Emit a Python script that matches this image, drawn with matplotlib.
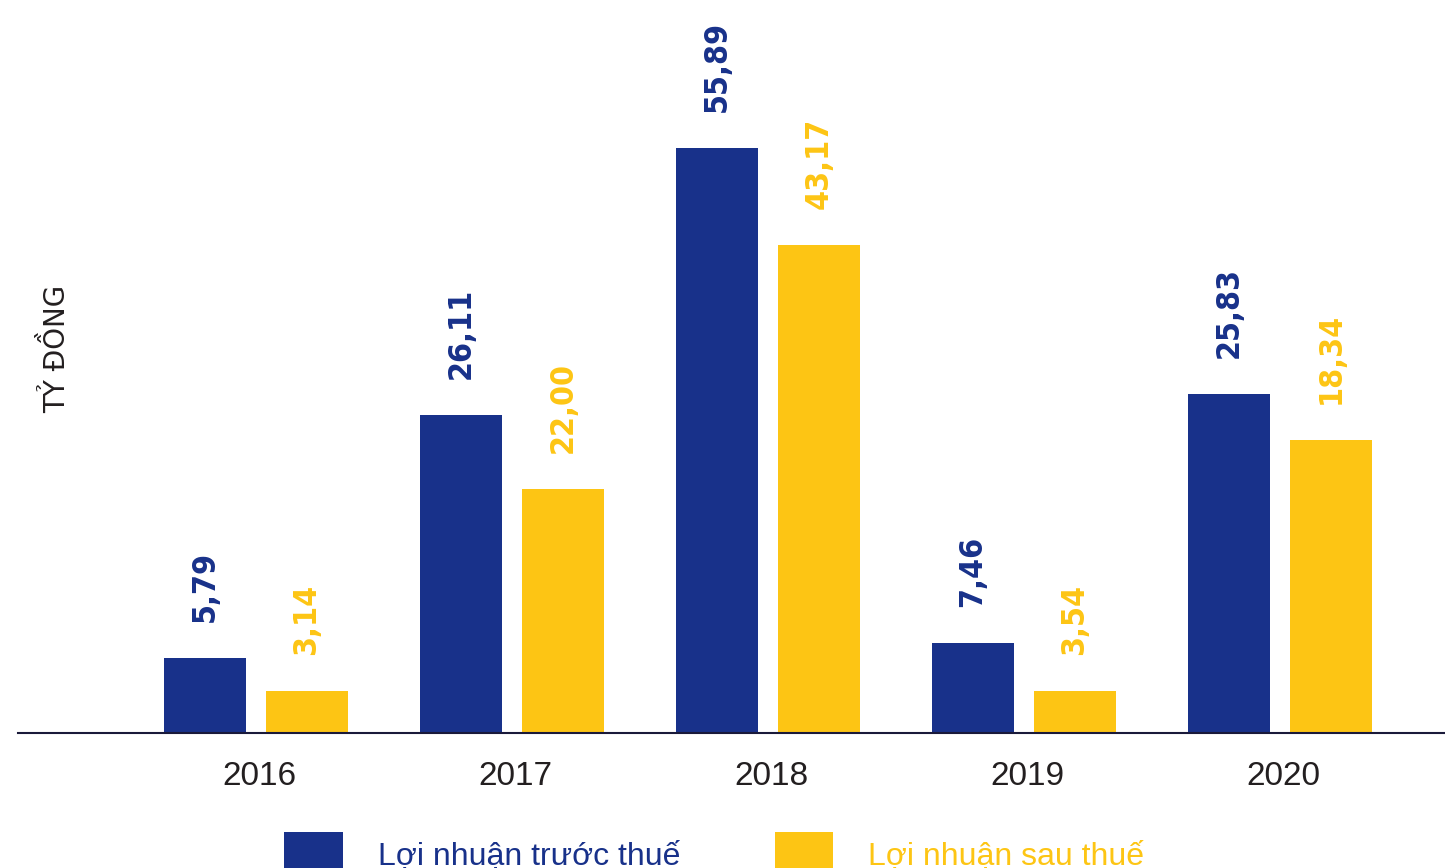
import matplotlib
matplotlib.use("Agg")
import matplotlib.pyplot as plt
import numpy as np

years = ["2016", "2017", "2018", "2019", "2020"]
# bar heights as drawn in the reference (tỷ đồng)
truoc_thue = [7.17, 30.38, 55.89, 8.60, 32.39]
sau_thue = [4.01, 23.31, 46.62, 4.01, 27.99]
# printed value labels
truoc_labels = ["5,79", "26,11", "55,89", "7,46", "25,83"]
sau_labels = ["3,14", "22,00", "43,17", "3,54", "18,34"]
series_names = ["Lợi nhuận trước thuế", "Lợi nhuận sau thuế"]

BLUE = "#18318a"
YELLOW = "#fdc514"

W, H = 1445, 868
fig = plt.figure(figsize=(W / 100, H / 100), dpi=100)
ax = fig.add_axes([18 / W, 1 - 733 / H, 1 - 18 / W, 733 / H])

x = np.arange(len(years))
bw = 82 / 256
off = 51 / 256
b1 = ax.bar(x - off, truoc_thue, bw, color=BLUE, label=series_names[0])
b2 = ax.bar(x + off, sau_thue, bw, color=YELLOW, label=series_names[1])

lab_kw = dict(textcoords="offset points", rotation=90, ha="center", va="bottom",
              fontsize=23, fontweight="heavy", family="DejaVu Sans",
              fontstretch="condensed")
for xi, h, t in zip(x - off, truoc_thue, truoc_labels):
    ax.annotate(t, (xi, h), xytext=(0, 26), color=BLUE, **lab_kw)
for xi, h, t in zip(x + off, sau_thue, sau_labels):
    ax.annotate(t, (xi, h), xytext=(0, 26), color=YELLOW, **lab_kw)

ax.set_xlim(-0.93, 4.645)
ax.set_ylim(0, 733 / 10.467)
ax.set_xticks(x + 0.012)
ax.set_xticklabels(years, fontsize=24, family="Liberation Sans", color="#231f20")
ax.tick_params(axis="x", length=0, pad=20)
ax.set_yticks([])
for s in ["top", "right", "left"]:
    ax.spines[s].set_visible(False)
ax.spines["bottom"].set_color("#1a1a3a")
ax.spines["bottom"].set_linewidth(1.5)
ax.patch.set_alpha(0)

fig.text(56 / W, 1 - 349 / H, "TỶ ĐỒNG", rotation=90, ha="center", va="center",
         fontsize=20, family="DejaVu Sans", color="#231f20")

fs = 23
fig.legend(handles=[b1, b2], labels=series_names, loc="upper left",
           bbox_to_anchor=(284 / W, 1 - 832 / H), ncol=2, frameon=False,
           prop={"family": "Liberation Sans", "size": fs},
           handlelength=1.84, handleheight=1.84, handletextpad=1.1,
           columnspacing=2.95, borderpad=0, borderaxespad=0,
           labelcolor=[BLUE, YELLOW])

fig.savefig("out.png", dpi=100)
